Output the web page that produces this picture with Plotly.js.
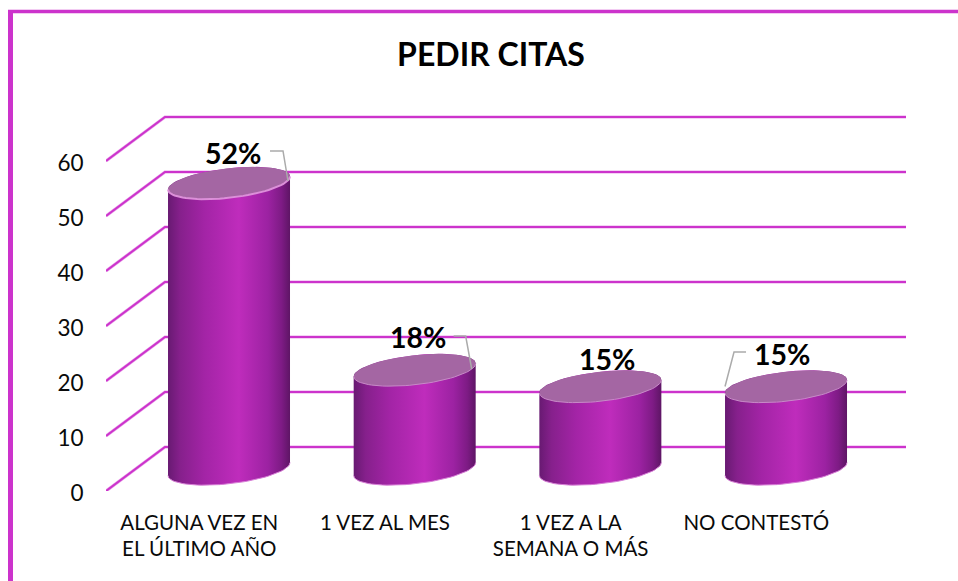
<!DOCTYPE html>
<html>
<head>
<meta charset="utf-8">
<script src="https://cdn.plot.ly/plotly-3.0.1.min.js"></script>
<style>
html, body { margin: 0; padding: 0; background: #fff; }
#chart { width: 958px; height: 581px; }
</style>
</head>
<body>
<div id="chart"></div>
<script>
const categories = ['ALGUNA VEZ EN<br>EL ÚLTIMO AÑO', '1 VEZ AL MES', '1 VEZ A LA<br>SEMANA O MÁS', 'NO CONTESTÓ'];
const values = [52, 18, 15, 15];
const valueLabels = ['52%', '18%', '15%', '15%'];
const yTicks = [0, 10, 20, 30, 40, 50, 60];

// escala de los ejes en pixeles por unidad
const W = 958, H = 581;
const unitX = 185.67, unitY = 5.5;
const marginL = 106, marginR = 40, marginT = 90, marginB = 90;
const xMin = -0.6625;
const xMax = xMin + (W - marginL - marginR) / unitX;
const yMax = (H - marginT - marginB) / unitY;
const px = d => d / unitX;
const py = d => -d / unitY;   // hacia abajo en pantalla

// profundidad del "piso" 3D
const depthX = px(59), depthY = 8;
const gridEnd = xMin + px(906 - marginL);

const PINK = '#cc33cc';
const bodyScale = [[0, '#681a72'], [0.1, '#86208c'], [0.3, '#a324a6'], [0.58, '#bf2cbc'], [0.82, '#9c22a2'], [0.93, '#7e1b85'], [1, '#5e1565']];

// elipse inclinada de los cilindros, en pixeles
const RX = 61, RY = 14.8, TILT = 6.5;
function ellipse(cx, cy, t0, t1, n) {
    let xs = [], ys = [];
    for (let k = 0; k <= n; k++) {
        let t = t0 + (t1 - t0) * k / n;
        xs.push(cx + px(RX * Math.cos(t)));
        ys.push(cy + (TILT * Math.cos(t) + RY * Math.sin(t)) / unitY);
    }
    return {xs, ys};
}

let traces = [];

// lineas de la pared y del lateral
let gx = [], gy = [];
yTicks.forEach(v => {
    gx.push(xMin, xMin + depthX, gridEnd, null);
    gy.push(v, v + depthY, v + depthY, null);
});
traces.push({x: gx, y: gy, mode: 'lines', line: {color: '#e9a6e9', width: 3.2}, cliponaxis: false, hoverinfo: 'skip'});
traces.push({x: gx, y: gy, mode: 'lines', line: {color: PINK, width: 2}, cliponaxis: false, hoverinfo: 'skip'});

// cilindros
values.forEach((v, i) => {
    let top = v + depthY / 2, base = depthY / 2;
    let low = ellipse(i, base, Math.PI, 2 * Math.PI, 40);
    let up = ellipse(i, top, 0, Math.PI, 40);
    traces.push({
        x: low.xs.concat(up.xs), y: low.ys.concat(up.ys),
        mode: 'lines', fill: 'toself', line: {width: 0},
        fillcolor: '#a524a8',
        fillgradient: {type: 'horizontal', colorscale: bodyScale},
        cliponaxis: false, hoverinfo: 'skip'
    });
    // borde claro abajo
    traces.push({x: low.xs, y: low.ys, mode: 'lines', line: {color: '#d77fd6', width: 1}, cliponaxis: false, hoverinfo: 'skip'});
    let cap = ellipse(i, top, 0, 2 * Math.PI, 70);
    traces.push({
        x: cap.xs, y: cap.ys, mode: 'lines', fill: 'toself', fillcolor: '#a466a3',
        line: {width: 0}, cliponaxis: false, hoverinfo: 'skip'
    });
    let rim = ellipse(i, top, Math.PI, 2 * Math.PI, 40);
    traces.push({x: rim.xs, y: rim.ys, mode: 'lines', line: {color: i === 0 ? '#dc8fd9' : '#c88ac8', width: i === 0 ? 2 : 1}, cliponaxis: false, hoverinfo: 'skip'});
});

// lineas guia de las etiquetas, relativas al centro de la tapa
const leaders = [
    [[41, -32], [54, -32], [59, -2]],
    [[39, -34], [51, -34], [57, -1]],
    null,
    [[-40, -34.5], [-52, -34.5], [-61, 0]]
];
leaders.forEach((pts, i) => {
    if (!pts) return;
    traces.push({
        x: pts.map(p => i + px(p[0])),
        y: pts.map(p => values[i] + depthY / 2 + py(p[1])),
        mode: 'lines', line: {color: '#ababab', width: 1.5}, cliponaxis: false, hoverinfo: 'skip'
    });
});

// posicion de las etiquetas respecto al centro de la tapa
const labelOffsets = [[4, -30], [3, -33], [7, -28], [-4, -33]];
let annotations = values.map((v, i) => ({
    x: i + px(labelOffsets[i][0]),
    y: v + depthY / 2 + py(labelOffsets[i][1]),
    text: '<b>' + valueLabels[i] + '</b>',
    showarrow: false,
    xanchor: 'center', yanchor: 'middle',
    font: {family: 'Lato, sans-serif', size: 28.5, color: '#000'}
}));

let plotW = W - marginL - marginR, plotH = H - marginT - marginB;
let layout = {
    width: W, height: H,
    paper_bgcolor: '#fff', plot_bgcolor: '#fff',
    margin: {l: marginL, r: marginR, t: marginT, b: marginB, pad: 0},
    showlegend: false,
    hovermode: false,
    title: {
        text: '<b>PEDIR CITAS</b>',
        x: 491 / W, xanchor: 'center',
        y: 1 - 55 / H, yanchor: 'middle',
        font: {family: 'Lato, sans-serif', size: 32, color: '#000'}
    },
    xaxis: {
        range: [xMin, xMax],
        tickmode: 'array',
        tickvals: categories.map((c, i) => i - 0.16),
        ticktext: categories,
        ticks: 'outside', ticklen: 13, tickcolor: 'rgba(0,0,0,0)',
        showgrid: false, zeroline: false, showline: false,
        tickangle: 0,
        tickfont: {family: 'Lato, sans-serif', size: 20.5, color: '#0a0a0a'}
    },
    yaxis: {
        range: [0, yMax],
        tickmode: 'array',
        tickvals: yTicks,
        ticktext: yTicks.map(String),
        ticks: 'outside', ticklen: 17, tickcolor: 'rgba(0,0,0,0)',
        ticklabelshift: 2,
        showgrid: false, zeroline: false, showline: false,
        tickfont: {family: 'Lato, sans-serif', size: 22.5, color: '#0a0a0a'}
    },
    shapes: [
        // marco superior e izquierdo
        {type: 'line', xref: 'paper', yref: 'paper',
         x0: (8 - marginL) / plotW, x1: 1.1,
         y0: (H - marginB - 11.5) / plotH, y1: (H - marginB - 11.5) / plotH,
         line: {color: PINK, width: 3.5}},
        {type: 'line', xref: 'paper', yref: 'paper',
         x0: (10.5 - marginL) / plotW, x1: (10.5 - marginL) / plotW,
         y0: (H - marginB - 10) / plotH, y1: -0.3,
         line: {color: PINK, width: 5}}
    ],
    annotations: annotations
};

Plotly.newPlot('chart', traces, layout, {displayModeBar: false, staticPlot: true});
</script>
</body>
</html>
